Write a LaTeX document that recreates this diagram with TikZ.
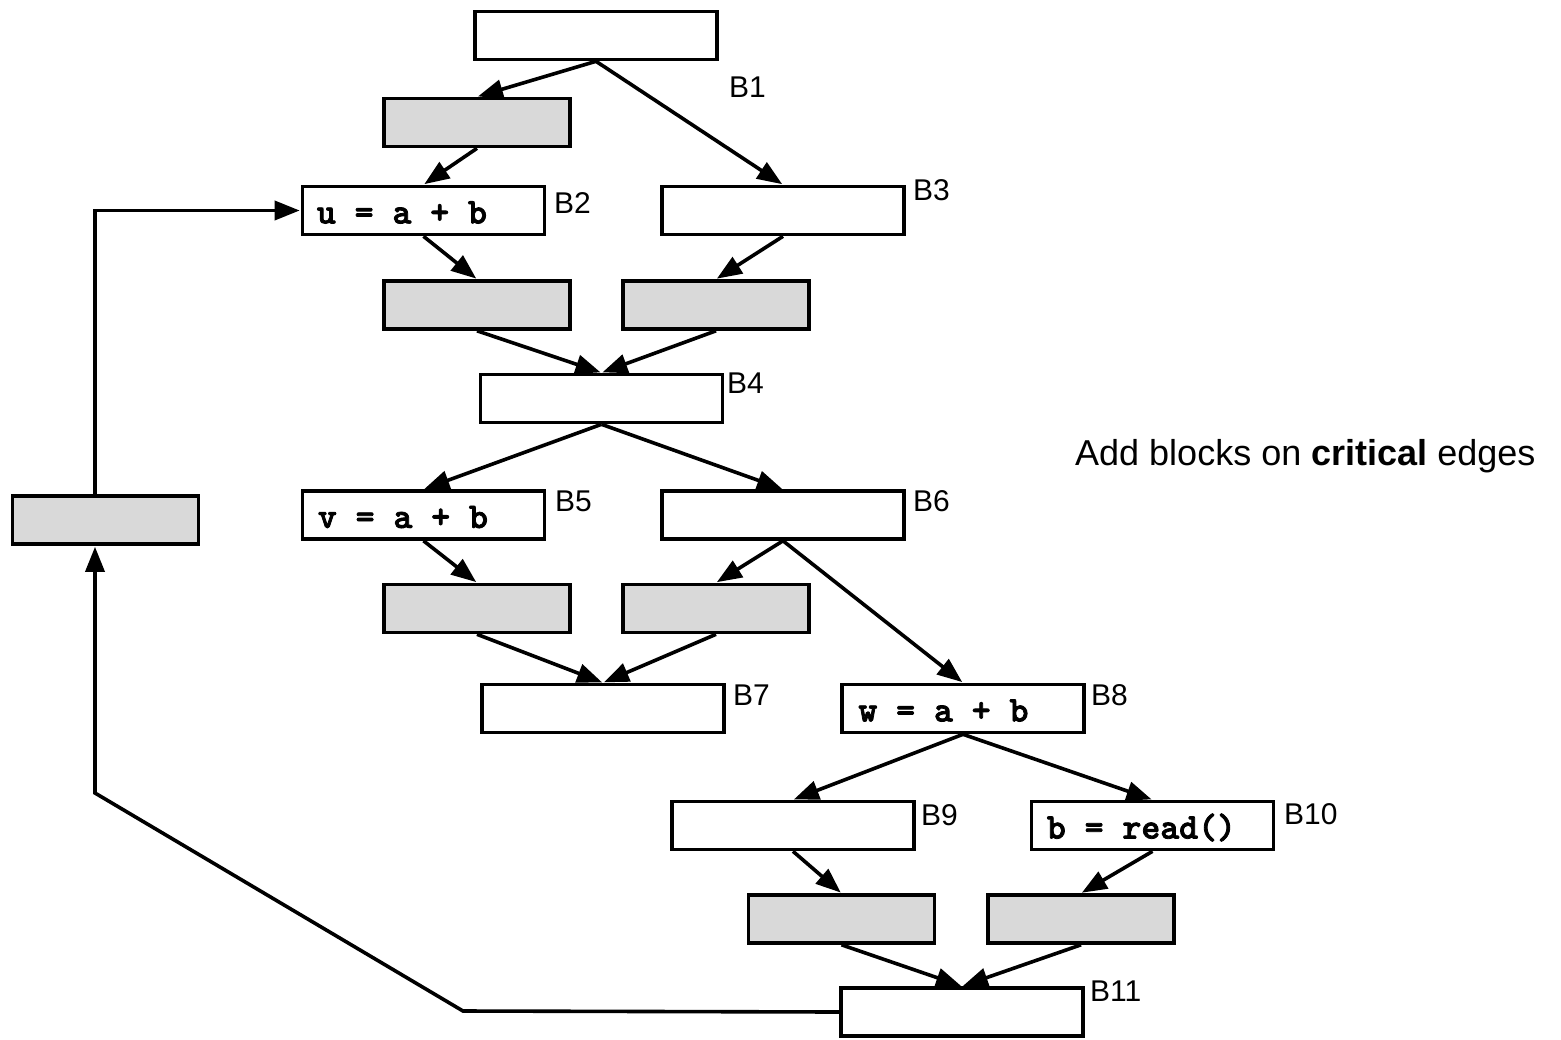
\documentclass[tikz,border=0pt]{standalone}
\usepackage{fontspec}
\setmainfont{Liberation Sans}
\newfontfamily\codefont{lmmonolt10-bold.otf}[FakeBold=2.2]
\usetikzlibrary{arrows.meta}
\definecolor{blockgrey}{HTML}{D9D9D9}
\begin{document}
\begin{tikzpicture}[x=1pt,y=-1pt,
  blk/.style={draw=black,line width=3.6pt,fill=white,minimum width=242pt,minimum height=48pt,inner sep=0pt},
  newblk/.style={blk,fill=blockgrey,minimum width=186pt},
  code/.style={anchor=west,font=\fontsize{36}{42}\selectfont\codefont,inner sep=0pt},
  bname/.style={anchor=base west,font=\fontsize{30}{35}\selectfont,inner sep=0pt},
  arr/.style={line width=3.6pt,-{Triangle[length=25pt,width=19pt]},shorten >=1pt}]
\useasboundingbox (0,0) rectangle (1561,1039);

% original basic blocks
\node[blk] (B1)  at (596,35.5) {};
\node[blk] (B2)  at (423.5,210.5) {};
\node[blk] (B3)  at (783,210.5) {};
\node[blk] (B4)  at (601.5,398.5) {};
\node[blk] (B5)  at (423.5,515) {};
\node[blk] (B6)  at (783,515) {};
\node[blk] (B7)  at (603,708.5) {};
\node[blk] (B8)  at (963,708.5) {};
\node[blk] (B9)  at (793,825.5) {};
\node[blk] (B10) at (1152.5,825.5) {};
\node[blk] (B11) at (962,1012) {};

% blocks inserted on critical edges
\node[newblk] (G1) at (477,122.5) {};
\node[newblk] (G2) at (477,305) {};
\node[newblk] (G3) at (716,305) {};
\node[newblk] (G4) at (477,608.5) {};
\node[newblk] (G5) at (716,608.5) {};
\node[newblk] (G6) at (841.5,919) {};
\node[newblk] (G7) at (1081,919) {};
\node[newblk] (GL) at (105.5,520) {};

% statements
\node[code] (s2)  at ([xshift=16,yshift=-2]B2.west) {u = a + b};
\node[code] (s5)  at ([xshift=17,yshift=-2]B5.west) {v = a + b};
\node[code] (s8)  at ([xshift=18,yshift=-2]B8.west) {w = a + b};
\node[code] (s10) at ([xshift=17,yshift=-2]B10.west) {b = read()};

% block names
\node[bname] (n1)  at (729,97)   {B1};
\node[bname] (n2)  at (554,213)  {B2};
\node[bname] (n3)  at (913,200)  {B3};
\node[bname] (n4)  at (727,393)  {B4};
\node[bname] (n5)  at (555,511)  {B5};
\node[bname] (n6)  at (913,511)  {B6};
\node[bname] (n7)  at (733,705)  {B7};
\node[bname] (n8)  at (1091,705) {B8};
\node[bname] (n9)  at (921,825)  {B9};
\node[bname] (n10) at (1284,824) {B10};
\node[bname] (n11) at (1090,1001) {B11};

\node[anchor=base west,inner sep=0pt,font=\fontsize{36}{42}\selectfont] (note) at (1075,465)
  {Add blocks on \textbf{critical} edges};

% control-flow edges
\draw[arr] (B1.south) -- (G1.north);
\draw[arr] (B1.south) -- (B3.north);
\draw[arr] (G1.south) -- (B2.north);
\draw[arr] (B2.south) -- (G2.north);
\draw[arr] (B3.south) -- (G3.north);
\draw[arr] (G2.south) -- (B4.north);
\draw[arr] (G3.south) -- (B4.north);
\draw[arr] (B4.south) -- (B5.north);
\draw[arr] (B4.south) -- (B6.north);
\draw[arr] (B5.south) -- (G4.north);
\draw[arr] (B6.south) -- (G5.north);
\draw[arr] (B6.south) -- (B8.north);
\draw[arr] (G4.south) -- (B7.north);
\draw[arr] (G5.south) -- (B7.north);
\draw[arr] (B8.south) -- (B9.north);
\draw[arr] (B8.south) -- (B10.north);
\draw[arr] (B9.south) -- (G6.north);
\draw[arr] (B10.south) -- (G7.north);
\draw[arr] (G6.south) -- (B11.north);
\draw[arr] (G7.south) -- (B11.north);

% back edge through the inserted block
\coordinate (k1) at (463,1011);
\coordinate (k2) at (95,793);
\draw[arr] (B11.west) -- (k1) -- (k2) -- (k2 |- GL.south);
\draw[arr] (k2 |- GL.north) -- (k2 |- B2.west) -- (B2.west);
\end{tikzpicture}
\end{document}
